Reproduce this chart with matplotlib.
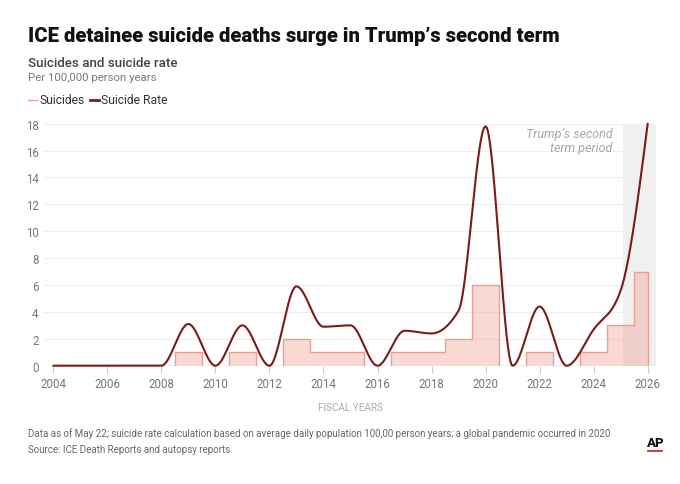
import numpy as np
import matplotlib
matplotlib.use("Agg")
import matplotlib.pyplot as plt
from matplotlib.lines import Line2D

# ---- data ----
years = [2004, 2005, 2006, 2007, 2008, 2009, 2010, 2011, 2012, 2013, 2014, 2015,
         2016, 2017, 2018, 2019, 2020, 2021, 2022, 2023, 2024, 2025, 2026]
suicides = [0, 0, 0, 0, 0, 1, 0, 1, 0, 2, 1, 1, 0, 1, 1, 2, 6, 0, 1, 0, 1, 3, 7]
suicide_rate = [0, 0, 0, 0, 0, 3.1, 0, 3.0, 0, 5.9, 2.9, 3.0, 0, 2.6, 2.4, 4.1,
                17.8, 0, 4.4, 0, 2.7, 5.6, 18.0]
x_ticks = [2004, 2006, 2008, 2010, 2012, 2014, 2016, 2018, 2020, 2022, 2024, 2026]
y_ticks = [0, 2, 4, 6, 8, 10, 12, 14, 16, 18]
term_start = 2025

TITLE = "ICE detainee suicide deaths surge in Trump\u2019s second term"
SUB1 = "Suicides and suicide rate"
SUB2 = "Per 100,000 person years"
NOTE = ("Data as of May 22; suicide rate calculation based on average daily population "
        "100,00 person years; a global pandemic occurred in 2020")
SOURCE = "Source: ICE Death Reports and autopsy reports"


def monotone_x(xs, ys, n=40):
    xs = np.asarray(xs, float)
    ys = np.asarray(ys, float)
    h = np.diff(xs)
    s = np.diff(ys) / h
    m = np.zeros(len(xs))
    for i in range(1, len(xs) - 1):
        s0, s1 = s[i - 1], s[i]
        p = (s0 * h[i] + s1 * h[i - 1]) / (h[i - 1] + h[i])
        m[i] = (np.sign(s0) + np.sign(s1)) * min(abs(s0), abs(s1), 0.5 * abs(p))
    m[0] = (3 * s[0] - m[1]) / 2
    m[-1] = (3 * s[-1] - m[-2]) / 2
    X, Y = [], []
    for i in range(len(xs) - 1):
        t = np.linspace(0, 1, n, endpoint=(i == len(xs) - 2))
        h00 = 2 * t**3 - 3 * t**2 + 1
        h10 = t**3 - 2 * t**2 + t
        h01 = -2 * t**3 + 3 * t**2
        h11 = t**3 - t**2
        X.append(xs[i] + t * h[i])
        Y.append(h00 * ys[i] + h10 * h[i] * m[i] + h01 * ys[i + 1] + h11 * h[i] * m[i + 1])
    return np.concatenate(X), np.concatenate(Y)


plt.rcParams['font.family'] = ['Roboto', 'DejaVu Sans']

fig = plt.figure(figsize=(6.8, 4.85), dpi=100)
W, H = 680, 485

# axes: 2004 at 53.3px, 2026 at 647.7px; 0 at 366.7px, 18 at 124.7px
px_per_year = (647.7 - 53.3) / 22
left_px, right_px = 44, 656
x0 = 2004 - (53.3 - left_px) / px_per_year
x1 = 2026 + (right_px - 647.7) / px_per_year
ax = fig.add_axes([left_px / W, (H - 366.7) / H, (right_px - left_px) / W, (366.7 - 124.7) / H])
ax.set_xlim(x0, x1)
ax.set_ylim(0, 18)

# shaded period
ax.axvspan(term_start + 0.08, x1, color='#f0f0f0', zorder=0, lw=0)

# grid
for yv in y_ticks:
    ax.axhline(yv, color='#efefef', lw=0.8, zorder=0.5)

# suicides steps
ax.fill_between(years, suicides, step='mid', color=(0.94, 0.55, 0.5), alpha=0.33,
                lw=0, zorder=1)
ax.step(years, suicides, where='mid', color='#e8a092', lw=1.0, zorder=2)
ax.vlines(years[-1], 0, suicides[-1], color='#e8a092', lw=1.0, zorder=2)

# rate line
cx, cy = monotone_x(years, suicide_rate)
ax.plot(cx, cy, color='#7b1a1a', lw=1.5, zorder=3, clip_on=False, solid_capstyle='round')

ax.text(2024.7, 16.75, "Trump\u2019s second\nterm period", ha='right', va='center',
        fontsize=9, style='italic', color='#a8a8a8', linespacing=1.15)

for sp in ax.spines.values():
    sp.set_visible(False)
ax.set_xticks(x_ticks)
ax.set_yticks(y_ticks)
ax.tick_params(axis='x', length=5, color='#cccccc', labelsize=8.3, labelcolor='#777777', pad=3)
ax.tick_params(axis='y', length=0, labelsize=8.3, labelcolor='#777777', pad=4)

ax.set_xlabel("FISCAL YEARS", fontsize=7.2, color='#aaaaaa', labelpad=9)

# header texts
fig.text(28 / W, 1 - 42 / H, TITLE, fontsize=14.6, fontweight='black', color='#111111',
         va='baseline')
fig.text(28 / W, 1 - 67 / H, SUB1, fontsize=9.6, fontweight='medium', color='#444444',
         va='baseline')
fig.text(28 / W, 1 - 81 / H, SUB2, fontsize=8.2, color='#7a7a7a', va='baseline')

# legend
ly = 1 - 101 / H
fig.add_artist(Line2D([28 / W, 37 / W], [ly, ly], color='#e8a092', lw=1.0))
fig.text(39 / W, ly, "Suicides", fontsize=8.7, color='#333333', va='center')
fig.add_artist(Line2D([90 / W, 99 / W], [ly, ly], color='#7b1a1a', lw=2.0))
fig.text(101 / W, ly, "Suicide Rate", fontsize=8.7, color='#333333', va='center')

# footer
fig.text(28 / W, 1 - 437 / H, NOTE, fontsize=7.0, color='#666666', va='baseline',
         family=['Liberation Sans Narrow', 'Roboto', 'DejaVu Sans'])
fig.text(28 / W, 1 - 453 / H, SOURCE, fontsize=7.0, color='#666666', va='baseline',
         family=['Liberation Sans Narrow', 'Roboto', 'DejaVu Sans'])

fig.text(655 / W, 1 - 447 / H, "AP", fontsize=9.5, fontweight='black', color='#111111',
         ha='center', va='baseline')
fig.add_artist(Line2D([648 / W, 662 / W], [1 - 452 / H, 1 - 452 / H], color='#d9262e', lw=1.3))

fig.savefig("out.png", dpi=100)
